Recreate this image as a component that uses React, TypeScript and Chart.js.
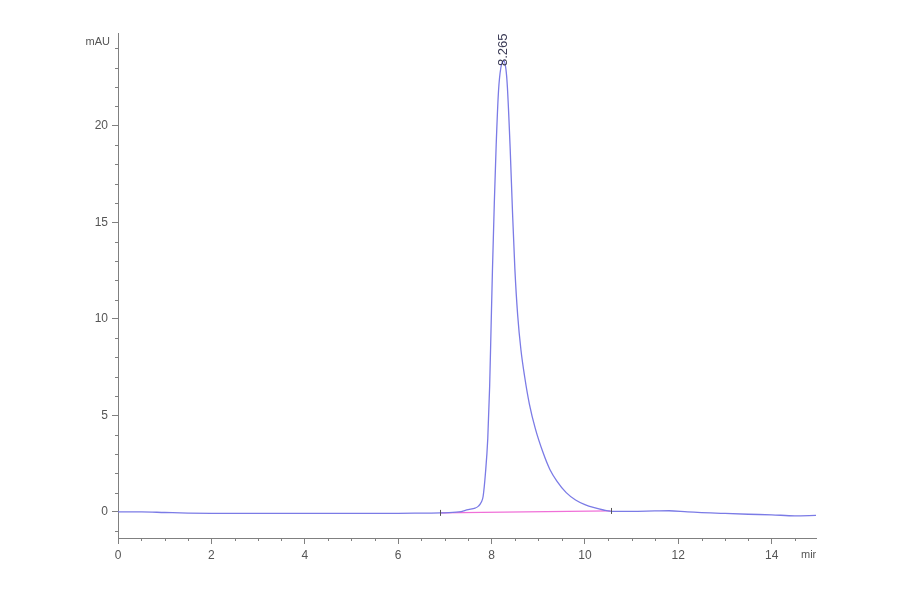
import { Chart, registerables, type Plugin } from 'chart.js';
import { useEffect, useRef } from 'react';

Chart.register(...registerables);

// retention time (min) and absorbance (mAU)
const times = [
  0, 0.5, 1, 1.5, 2, 3, 4, 5, 6, 6.5, 6.9, 7.3, 7.5, 7.65, 7.72, 7.78, 7.82, 7.87, 7.92, 7.96, 7.99, 8.02,
  8.06, 8.1, 8.15, 8.2, 8.265, 8.31, 8.34, 8.4, 8.45, 8.5, 8.56, 8.63, 8.71, 8.81, 8.94, 9.1, 9.25, 9.4,
  9.6, 9.8, 10.0, 10.2, 10.4, 10.58, 11, 11.5, 11.8, 12.2, 13, 13.5, 14, 14.5, 14.95,
];
const signal = [
  0, 0, -0.03, -0.06, -0.07, -0.07, -0.08, -0.07, -0.07, -0.06, -0.05, 0, 0.12, 0.2, 0.3, 0.5, 0.8, 2.0,
  3.8, 6.5, 9.5, 12.5, 16, 19, 21.8, 23.0, 23.35, 22.9, 22.0, 18.8, 15.5, 12.6, 10.2, 8.4, 7.0, 5.6, 4.3,
  3.1, 2.2, 1.6, 1.0, 0.62, 0.38, 0.22, 0.1, 0.03, 0.03, 0.05, 0.06, 0, -0.08, -0.12, -0.15, -0.2, -0.18,
];

// integration baseline
const baselineTimes = [6.9, 10.55];
const baselineValues = [-0.05, 0.05];

const peakTime = 8.265;
const peakHeight = 23.35;
const peakLabel = '8.265';

const xTicks = [0, 2, 4, 6, 8, 10, 12, 14];
const yTicks = [0, 5, 10, 15, 20];

const axisColor = '#808080';
const textColor = '#555555';
const font = 'Liberation Sans';

const extras: Plugin<'line'> = {
  id: 'extras',
  afterDraw(chart) {
    const { ctx, chartArea } = chart;
    const x = chart.scales.x;
    const y = chart.scales.y;
    ctx.save();
    // minor ticks
    ctx.strokeStyle = axisColor;
    ctx.lineWidth = 1;
    ctx.beginPath();
    for (let i = 0; i * 0.5 <= x.max; i++) {
      const v = i * 0.5;
      if (v % 2 === 0) continue;
      const px = Math.round(x.getPixelForValue(v)) + 0.5;
      ctx.moveTo(px, chartArea.bottom);
      ctx.lineTo(px, chartArea.bottom + 3);
    }
    for (let v = Math.ceil(y.min); v <= y.max; v++) {
      if (v % 5 === 0) continue;
      const py = Math.round(y.getPixelForValue(v)) + 0.5;
      ctx.moveTo(chartArea.left - 3, py);
      ctx.lineTo(chartArea.left, py);
    }
    ctx.stroke();

    // integration marks
    ctx.strokeStyle = '#555';
    ctx.beginPath();
    baselineTimes.forEach((t, i) => {
      const px = Math.round(x.getPixelForValue(t)) + 0.5;
      const py = y.getPixelForValue(baselineValues[i]);
      ctx.moveTo(px, py - 3);
      ctx.lineTo(px, py + 3);
    });
    ctx.stroke();

    // unit labels
    ctx.fillStyle = textColor;
    ctx.font = `11px "${font}"`;
    ctx.textAlign = 'right';
    ctx.textBaseline = 'middle';
    ctx.fillText('mAU', chartArea.left - 8, chartArea.top + 9);

    ctx.save();
    ctx.beginPath();
    ctx.rect(chartArea.right - 20, chartArea.bottom + 6, 20, 30);
    ctx.clip();
    ctx.textAlign = 'left';
    ctx.font = `11px "${font}"`;
    ctx.fillText('min', chartArea.right - 15, chartArea.bottom + 17);
    ctx.restore();

    // peak retention label
    const px = x.getPixelForValue(peakTime);
    const py = y.getPixelForValue(peakHeight);
    ctx.translate(px, py + 5);
    ctx.rotate(-Math.PI / 2);
    ctx.fillStyle = '#3a3a55';
    ctx.font = `13px "${font}"`;
    ctx.textAlign = 'left';
    ctx.textBaseline = 'middle';
    ctx.fillText(peakLabel, 0, 0);
    ctx.restore();
  },
};

export default function App() {
  const canvasRef = useRef<HTMLCanvasElement>(null);
  const chartRef = useRef<Chart<'line'> | null>(null);

  useEffect(() => {
    if (!canvasRef.current) return;
    const context = canvasRef.current.getContext('2d');
    if (!context) return;

    chartRef.current = new Chart(context, {
      type: 'line',
      data: {
        datasets: [
          {
            label: 'Signal',
            data: times.map((t, i) => ({ x: t, y: signal[i] })),
            borderColor: '#7b7be6',
            borderWidth: 1.3,
            pointRadius: 0,
            cubicInterpolationMode: 'monotone',
          },
          {
            label: 'Baseline',
            data: baselineTimes.map((t, i) => ({ x: t, y: baselineValues[i] })),
            borderColor: '#f070d8',
            borderWidth: 1.3,
            pointRadius: 0,
          },
        ],
      },
      options: {
        animation: false,
        responsive: true,
        maintainAspectRatio: false,
        layout: { padding: { left: 0, top: 33, right: 84, bottom: 0 } },
        plugins: {
          legend: { display: false },
          tooltip: { enabled: false },
        },
        scales: {
          x: {
            type: 'linear',
            min: 0,
            max: 14.95,
            afterFit: (s) => {
              s.height = 56;
            },
            afterBuildTicks: (s) => {
              s.ticks = xTicks.map((value) => ({ value }));
            },
            ticks: {
              includeBounds: false,
              autoSkip: false,
              maxRotation: 0,
              color: textColor,
              padding: 4,
              font: { family: font, size: 12 },
            },
            grid: { drawOnChartArea: false, drawTicks: true, tickLength: 6, tickColor: axisColor },
            border: { color: axisColor },
          },
          y: {
            type: 'linear',
            min: -1.35,
            max: 24.8,
            afterFit: (s) => {
              s.width = 118;
            },
            afterBuildTicks: (s) => {
              s.ticks = yTicks.map((value) => ({ value }));
            },
            ticks: {
              includeBounds: false,
              autoSkip: false,
              color: textColor,
              padding: 4,
              font: { family: font, size: 12 },
            },
            grid: { drawOnChartArea: false, drawTicks: true, tickLength: 6, tickColor: axisColor },
            border: { color: axisColor },
          },
        },
      },
      plugins: [extras],
    });

    return () => {
      chartRef.current?.destroy();
    };
  }, []);

  return (
    <div style={{ position: 'absolute', left: 0, top: 0, width: 900, height: 594, background: '#fff' }}>
      <canvas ref={canvasRef} />
    </div>
  );
}
